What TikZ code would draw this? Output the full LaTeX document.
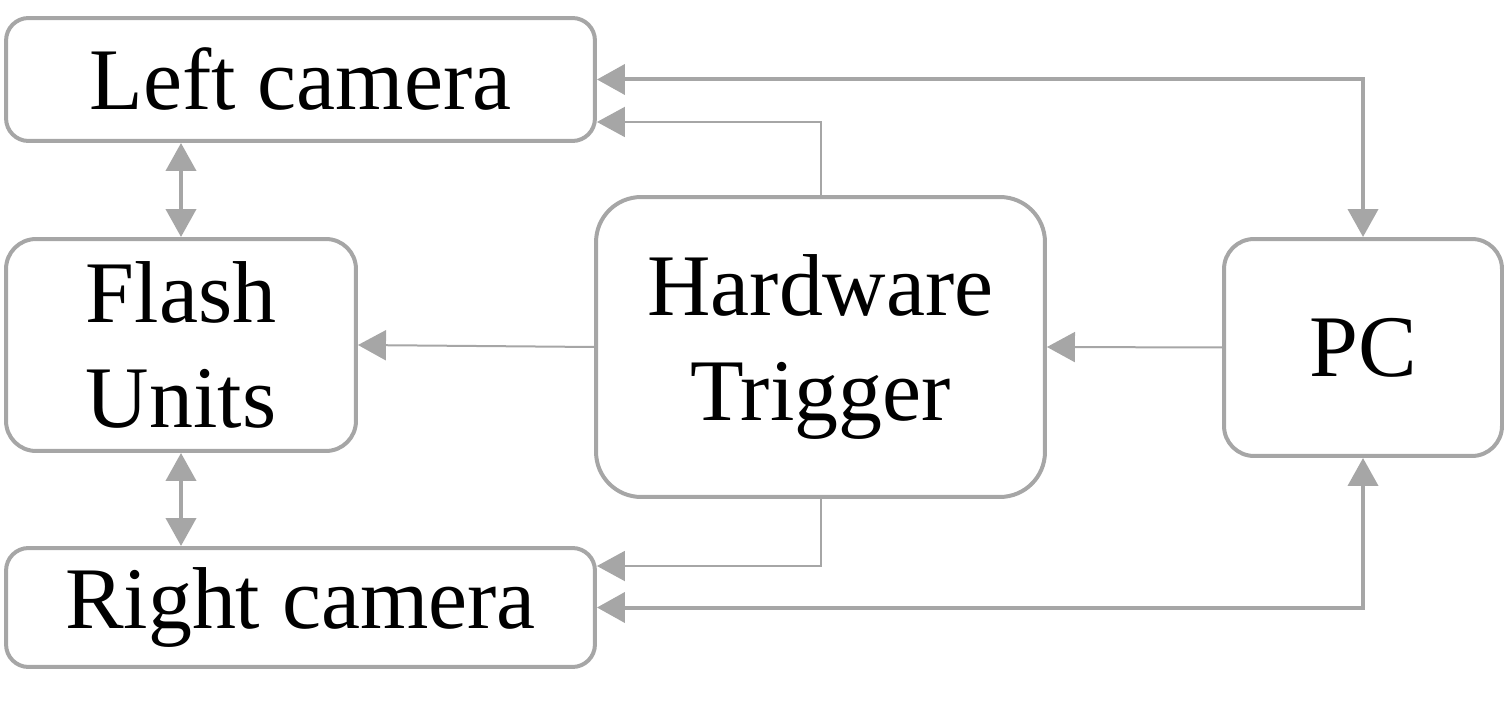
\documentclass[tikz,border=0pt]{standalone}
\usepackage{fontspec}
\setmainfont{Liberation Serif}
\usetikzlibrary{arrows.meta}
\definecolor{boxgray}{HTML}{A6A6A6}
\begin{document}
\begin{tikzpicture}[x=0.02cm,y=-0.02cm,
  box/.style={draw=boxgray,line width=0.08cm,rounded corners=#1,align=center,
    font=\fontsize{50pt}{60pt}\selectfont,inner sep=0pt},
  box/.default=0.45cm,
  bothtip/.style={draw=boxgray,line width=0.08cm,
    arrows={Triangle[length=0.56cm,width=0.6cm,fill=boxgray]-Triangle[length=0.56cm,width=0.6cm,fill=boxgray]}},
  thinarr/.style={draw=boxgray,line width=0.04cm,
    arrows={-Triangle[length=0.56cm,width=0.6cm,fill=boxgray]}}]
\useasboundingbox (0,0) rectangle (1506,715);
\node[box=0.45cm,minimum width=11.78cm,minimum height=2.46cm] (lc) at (300.5,79.5) {Left camera};
\node[box=0.6cm,minimum width=7.0cm,minimum height=4.24cm] (fu) at (181,345) {Flash\\Units};
\node[box=0.45cm,minimum width=11.78cm,minimum height=2.38cm] (rc) at (300.5,607.5) {Right camera};
\node[box=0.9cm,minimum width=8.98cm,minimum height=6.0cm] (ht) at (820.5,347) {Hardware\\Trigger};
\node[box=0.6cm,minimum width=5.56cm,minimum height=4.34cm] (pc) at (1363,347.5) {PC};
% PC <-> cameras
\draw[bothtip] (lc.east) -| (pc.north);
\draw[bothtip] (rc.east) -| (pc.south);
% flash <-> cameras
\draw[bothtip] (fu.north |- lc.south) -- (fu.north);
\draw[bothtip] (fu.south) -- (fu.south |- rc.north);
% trigger outputs
\draw[thinarr] (ht.north) |- ([yshift=-0.85cm]lc.east);
\draw[thinarr] (ht.south) |- ([yshift=0.83cm]rc.east);
\draw[thinarr] (ht.west) -- (fu.east);
\draw[thinarr] (pc.west) -- (ht.east);
\end{tikzpicture}
\end{document}
